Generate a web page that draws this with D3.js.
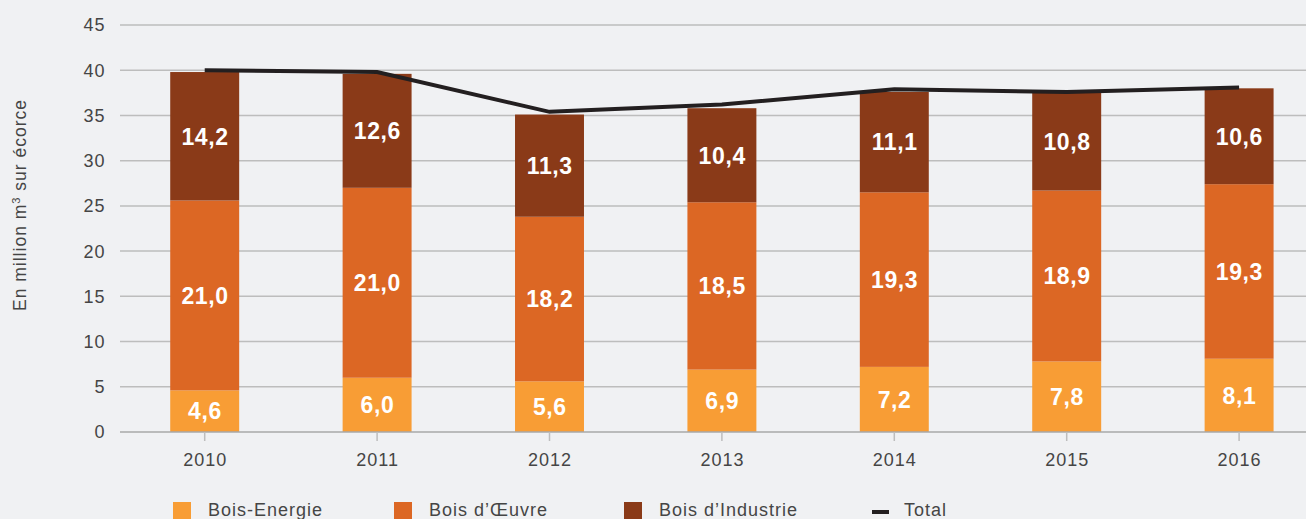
<!DOCTYPE html>
<html><head><meta charset="utf-8">
<script src="https://cdn.jsdelivr.net/npm/d3@7"></script>
<style>
html,body{margin:0;padding:0;background:#f0f1f3;}
svg{display:block;font-family:"Liberation Sans",Arial,sans-serif;}
</style></head>
<body><svg id="c" width="1306" height="519"></svg>
<script>
const years = ["2010","2011","2012","2013","2014","2015","2016"];
const boisEnergie   = [4.6, 6.0, 5.6, 6.9, 7.2, 7.8, 8.1];
const boisOeuvre    = [21.0, 21.0, 18.2, 18.5, 19.3, 18.9, 19.3];
const boisIndustrie = [14.2, 12.6, 11.3, 10.4, 11.1, 10.8, 10.6];
const totals        = [40.0, 39.8, 35.4, 36.2, 37.9, 37.6, 38.1];
const yTicks = [0,5,10,15,20,25,30,35,40,45];
const seriesNames = ["Bois-Energie","Bois d\u2019\u0152uvre","Bois d\u2019Industrie"];
const colors = ["#f89d35","#dc6724","#8a3a18"];

const svg = d3.select("#c");
const x = d3.scaleBand().domain(years).range([118.5, 1325.3]).paddingInner(0.6).paddingOuter(0.3);
const y = d3.scaleLinear().domain([0,45]).range([432,25]);

// gridlines
svg.append("g").selectAll("line").data(yTicks.filter(d=>d>0)).join("line")
  .attr("x1",120).attr("x2",1306).attr("y1",d=>y(d)).attr("y2",d=>y(d))
  .attr("stroke","#bdbdbd").attr("stroke-width",1.5);

// y labels
svg.append("g").selectAll("text").data(yTicks).join("text")
  .attr("x",105.5).attr("y",d=>y(d)).attr("dy","0.36em").attr("text-anchor","end")
  .attr("font-size",18).attr("letter-spacing","1px").attr("fill","#454545").text(d=>d);

// stacked bars
const table = years.map((yr,i)=>({year:yr, e:boisEnergie[i], o:boisOeuvre[i], n:boisIndustrie[i]}));
const stack = d3.stack().keys(["e","o","n"])(table);
const bw = x.bandwidth();
stack.forEach((s,si)=>{
  const g = svg.append("g");
  g.selectAll("rect").data(s).join("rect")
    .attr("x",d=>x(d.data.year)).attr("width",bw)
    .attr("y",d=>y(d[1])).attr("height",d=>y(d[0])-y(d[1]))
    .attr("fill",colors[si]);
  g.selectAll("text").data(s).join("text")
    .attr("x",d=>x(d.data.year)+bw/2+0.3).attr("y",d=>(y(d[0])+y(d[1]))/2)
    .attr("dy","0.36em").attr("text-anchor","middle")
    .attr("font-size",23).attr("letter-spacing","0.6px").attr("font-weight","bold").attr("fill","#fff")
    .text(d=>(d[1]-d[0]).toFixed(1).replace(".",","));
});

// x axis line
svg.append("line").attr("x1",120).attr("x2",1306).attr("y1",y(0)).attr("y2",y(0))
  .attr("stroke","#a9a9a9").attr("stroke-width",1.5);
svg.append("g").selectAll("line").data(years).join("line")
  .attr("x1",d=>x(d)+bw/2).attr("x2",d=>x(d)+bw/2).attr("y1",y(0)).attr("y2",y(0)+9)
  .attr("stroke","#bdbdbd").attr("stroke-width",1.5);
svg.append("g").selectAll("text").data(years).join("text")
  .attr("x",d=>x(d)+bw/2+0.5).attr("y",460).attr("dy","0.36em").attr("text-anchor","middle")
  .attr("font-size",18).attr("letter-spacing","1px").attr("fill","#454545").text(d=>d);

// total line
const line = d3.line().x((d,i)=>x(years[i])+bw/2).y(d=>y(d));
svg.append("path").datum(totals).attr("d",line).attr("fill","none")
  .attr("stroke","#231f20").attr("stroke-width",4);

// y axis title
const t = svg.append("text").attr("transform","translate(26,205) rotate(-90)")
  .attr("text-anchor","middle").attr("font-size",17.5).attr("letter-spacing","1px").attr("fill","#454545");
t.append("tspan").text("En million m");
t.append("tspan").attr("font-size",11).attr("dy",-6).text("3");
t.append("tspan").attr("dy",6).text(" sur écorce");

// legend
const legX = [173, 394, 624];
seriesNames.forEach((n,i)=>{
  svg.append("rect").attr("x",legX[i]).attr("y",502).attr("width",18).attr("height",20).attr("fill",colors[i]);
  svg.append("text").attr("x",legX[i]+35).attr("y",516).attr("font-size",18).attr("letter-spacing","1px").attr("fill","#454545").text(n);
});
svg.append("rect").attr("x",872).attr("y",510).attr("width",17).attr("height",4).attr("fill","#231f20");
svg.append("text").attr("x",904).attr("y",516).attr("font-size",18).attr("letter-spacing","1px").attr("fill","#454545").text("Total");
</script></body></html>
